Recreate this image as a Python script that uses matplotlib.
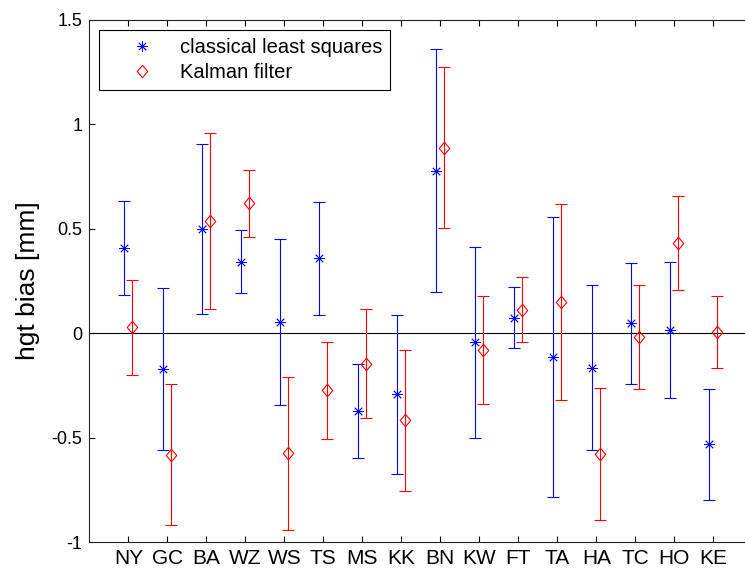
import numpy as np
import matplotlib.pyplot as plt

stations = ["NY", "GC", "BA", "WZ", "WS", "TS", "MS", "KK",
            "BN", "KW", "FT", "TA", "HA", "TC", "HO", "KE"]

# classical least squares: bias and error half-width [mm]
cls_bias = [0.407, -0.172, 0.497, 0.342, 0.051, 0.357, -0.372, -0.292,
            0.776, -0.045, 0.073, -0.115, -0.166, 0.046, 0.016, -0.533]
cls_err = [0.225, 0.386, 0.406, 0.152, 0.397, 0.269, 0.224, 0.380,
           0.581, 0.455, 0.145, 0.668, 0.394, 0.290, 0.325, 0.267]

# Kalman filter: bias and error half-width [mm]
kf_bias = [0.027, -0.582, 0.537, 0.620, -0.576, -0.274, -0.146, -0.418,
           0.887, -0.081, 0.112, 0.149, -0.579, -0.021, 0.431, 0.005]
kf_err = [0.229, 0.338, 0.421, 0.159, 0.367, 0.231, 0.262, 0.338,
          0.386, 0.260, 0.155, 0.470, 0.317, 0.249, 0.224, 0.174]

plt.rcParams['font.family'] = ['Liberation Sans', 'DejaVu Sans']

x = np.arange(1, len(stations) + 1)
blue = "#0000ff"
red = "#ff0000"
diamond = [(0, 1), (0.84, 0), (0, -1), (-0.84, 0), (0, 1)]

fig = plt.figure(figsize=(7.45, 5.7), dpi=100)
ax = fig.add_axes([0.1199, 0.049, 0.8899, 0.9167])

ax.axhline(0, color="k", lw=0.8, zorder=1)

ax.errorbar(x - 0.1, cls_bias, yerr=cls_err, fmt="none", ecolor=blue,
            elinewidth=0.8, capsize=4.2, capthick=0.8, zorder=2)
ax.errorbar(x + 0.1, kf_bias, yerr=kf_err, fmt="none", ecolor=red,
            elinewidth=0.8, capsize=4.2, capthick=0.8, zorder=2)
ax.plot(x - 0.1, cls_bias, linestyle="none", marker=(8, 2, 0), ms=7.5,
        mew=0.6, color=blue, label="classical least squares", zorder=3)
ax.plot(x + 0.1, kf_bias, linestyle="none", marker=diamond, ms=9,
        mew=0.8, mfc="none", mec=red, label="Kalman filter", zorder=3)

ax.set_xlim(0, 17)
ax.set_ylim(-1, 1.5)
ax.set_xticks(x)
ax.set_xticklabels(stations, fontsize=15)
ax.set_yticks([-1, -0.5, 0, 0.5, 1, 1.5])
ax.set_yticklabels(["-1", "-0.5", "0", "0.5", "1", "1.5"], fontsize=13)
ax.tick_params(direction="in", top=True, right=True, length=4.5, width=0.8)
ax.tick_params(axis="x", pad=5)
ax.tick_params(axis="y", pad=5)
for s in ax.spines.values():
    s.set_linewidth(0.8)
    s.set_color("#222222")

ax.set_ylabel("hgt bias [mm]", fontsize=19, labelpad=8)

leg = ax.legend(loc="upper left", fontsize=14.5, frameon=True, fancybox=False,
                framealpha=1, edgecolor="k", handlelength=3.4,
                handletextpad=0.2, borderpad=0.4, labelspacing=0.3,
                borderaxespad=0.5)
leg.get_frame().set_linewidth(0.8)

plt.savefig("out.png", dpi=100)
plt.close()
